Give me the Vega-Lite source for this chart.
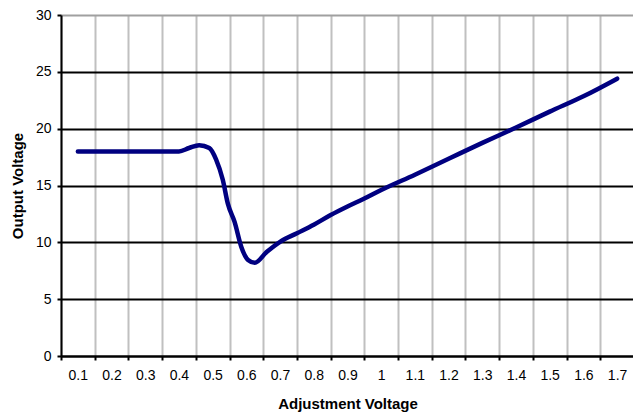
{
  "$schema": "https://vega.github.io/schema/vega-lite/v6.json",
  "width": 573,
  "height": 341,
  "autosize": {"type": "none"},
  "padding": {"left": 61, "top": 15, "right": 0, "bottom": 58},
  "background": "white",
  "config": {
    "view": {"stroke": null},
    "font": "Liberation Sans"
  },
  "data": {
    "values": [
      {"adj": 0.1, "out": 18},
      {"adj": 0.2, "out": 18},
      {"adj": 0.3, "out": 18},
      {"adj": 0.4, "out": 18},
      {"adj": 0.43, "out": 18.3},
      {"adj": 0.46, "out": 18.55},
      {"adj": 0.49, "out": 18.3},
      {"adj": 0.51, "out": 17.3},
      {"adj": 0.53, "out": 15.5},
      {"adj": 0.545, "out": 13.4},
      {"adj": 0.565, "out": 11.8},
      {"adj": 0.585, "out": 9.6},
      {"adj": 0.605, "out": 8.45},
      {"adj": 0.625, "out": 8.2},
      {"adj": 0.66, "out": 9.15},
      {"adj": 0.7, "out": 10.05},
      {"adj": 0.75, "out": 10.8},
      {"adj": 0.8, "out": 11.55},
      {"adj": 0.85, "out": 12.4},
      {"adj": 0.9, "out": 13.15},
      {"adj": 0.95, "out": 13.85},
      {"adj": 1.0, "out": 14.6},
      {"adj": 1.1, "out": 15.95},
      {"adj": 1.2, "out": 17.35},
      {"adj": 1.3, "out": 18.75},
      {"adj": 1.4, "out": 20.1},
      {"adj": 1.5, "out": 21.5},
      {"adj": 1.6, "out": 22.85},
      {"adj": 1.7, "out": 24.4}
    ]
  },
  "mark": {
    "type": "line",
    "color": "#000080",
    "strokeWidth": 4.5,
    "strokeCap": "round",
    "strokeJoin": "round",
    "interpolate": "monotone"
  },
  "encoding": {
    "x": {
      "field": "adj",
      "type": "quantitative",
      "scale": {"domain": [0.05, 1.75], "nice": false, "zero": false},
      "axis": {
        "values": [0.05, 0.15, 0.25, 0.35, 0.45, 0.55, 0.65, 0.75, 0.85, 0.95, 1.05, 1.15, 1.25, 1.35, 1.45, 1.55, 1.65, 1.75],
        "labelExpr": "datum.value > 1.7 ? '' : format(datum.value + 0.05, '.1~f')",
        "labelOffset": 16.8,
        "labelFlush": false,
        "labelOverlap": false,
        "labelFont": "Liberation Sans",
        "labelFontSize": 14,
        "labelColor": "black",
        "labelPadding": 8,
        "grid": true,
        "gridColor": "#c0c0c0",
        "gridWidth": 2,
        "tickColor": "black",
        "tickSize": 4,
        "tickWidth": 2,
        "domainColor": "black",
        "domainWidth": 2,
        "title": "Adjustment Voltage",
        "titleFont": "Liberation Sans",
        "titleFontSize": 15,
        "titleFontWeight": "bold",
        "titleColor": "black",
        "titleBaseline": "middle",
        "titleY": 47
      }
    },
    "y": {
      "field": "out",
      "type": "quantitative",
      "scale": {"domain": [0, 30], "nice": false},
      "axis": {
        "values": [0, 5, 10, 15, 20, 25, 30],
        "labelFont": "Liberation Sans",
        "labelFontSize": 14,
        "labelColor": "black",
        "labelPadding": 6,
        "grid": true,
        "gridColor": {"condition": {"test": "datum.value === 30", "value": "#a0a0a0"}, "value": "black"},
        "gridWidth": 2,
        "tickColor": "black",
        "tickSize": 4,
        "tickWidth": 2,
        "domainColor": "black",
        "domainWidth": 2,
        "title": "Output Voltage",
        "titleFont": "Liberation Sans",
        "titleFontSize": 15,
        "titleFontWeight": "bold",
        "titleColor": "black",
        "titleAngle": -90,
        "titleAlign": "center",
        "titleBaseline": "middle",
        "titleX": -43.5,
        "titleY": 170.5
      }
    }
  }
}
